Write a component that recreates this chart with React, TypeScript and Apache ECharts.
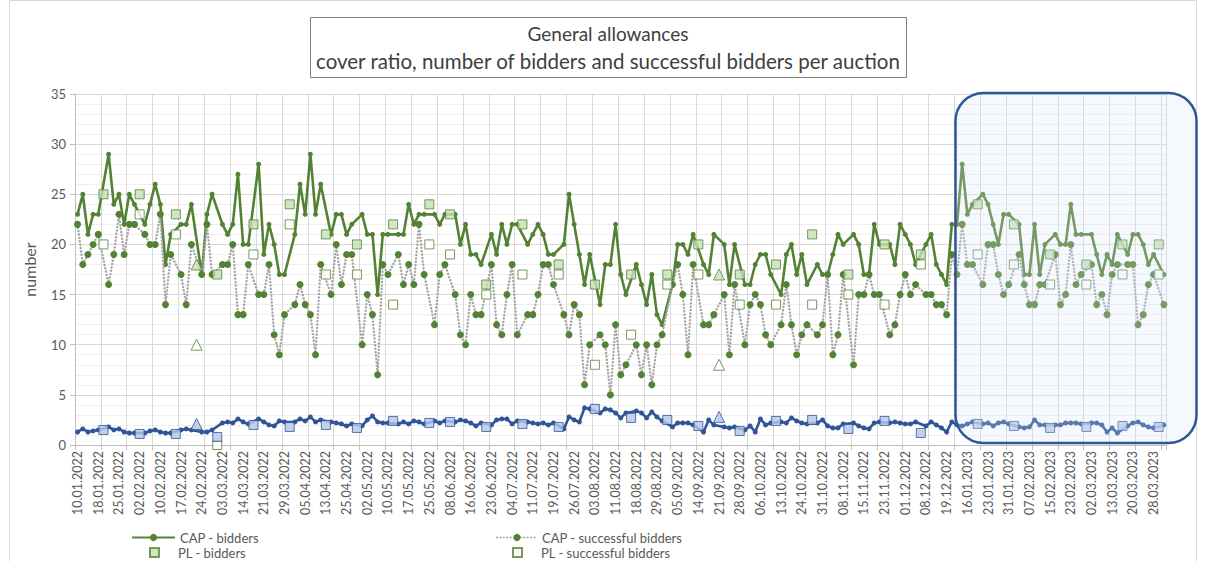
import React, { useEffect, useRef } from "react";
import * as echarts from "echarts";

const N = null;

const tickLabels = [
  "10.01.2022", "18.01.2022", "25.01.2022", "02.02.2022", "10.02.2022", "17.02.2022", "24.02.2022",
  "03.03.2022", "14.03.2022", "21.03.2022", "29.03.2022", "05.04.2022", "13.04.2022", "25.04.2022",
  "02.05.2022", "10.05.2022", "17.05.2022", "25.05.2022", "08.06.2022", "16.06.2022", "23.06.2022",
  "04.07.2022", "11.07.2022", "19.07.2022", "26.07.2022", "03.08.2022", "11.08.2022", "18.08.2022",
  "29.08.2022", "05.09.2022", "14.09.2022", "21.09.2022", "28.09.2022", "06.10.2022", "13.10.2022",
  "24.10.2022", "31.10.2022", "08.11.2022", "15.11.2022", "23.11.2022", "01.12.2022", "08.12.2022",
  "19.12.2022", "16.01.2023", "23.01.2023", "31.01.2023", "07.02.2023", "15.02.2023", "23.02.2023",
  "02.03.2023", "13.03.2023", "20.03.2023", "28.03.2023",
];

const capBidders = [
  23, 25, 21, 23, 23, N, 29, 24, 25, 22,
  25, 24, N, 22, 24, 26, 24, 18, 21, N,
  22, 22, 24, N, 17, 23, 25, N, 22, 21,
  22, 27, 20, 20, N, 28, 19, 22, 20, 17,
  17, N, 21, 26, 23, 29, 23, 26, N, 21,
  23, 23, 21, 22, N, 23, 21, 21, 15, 21,
  21, N, 21, 21, 24, 22, 23, 23, N, 23,
  22, 23, N, 23, 20, 22, 19, 19, 18, N,
  21, 19, 22, 20, 22, 22, N, 20, 21, 22,
  21, 19, 19, N, 20, 25, 22, 19, 16, 19,
  N, 14, 18, 18, 22, 17, 15, N, 18, 16,
  14, 17, 13, 12, N, 16, 20, 20, 19, 21,
  N, 18, 17, 21, N, 20, 16, 20, N, 16,
  16, 18, 19, 19, 17, N, 15, 19, 20, 17,
  19, 16, N, 18, 17, 17, 19, 21, 20, N,
  21, 20, 17, 17, 22, 20, N, 20, 18, 22,
  21, 20, 18, N, 20, 21, 18, 17, 16, 22,
  22, 28, 23, 24, N, 25, 24, 22, 20, 23,
  23, N, 22, 17, 17, 22, 17, 20, N, 21,
  20, 20, 24, 21, 21, N, 21, 19, 17, 19,
  18, 21, N, 19, 21, 21, 20, 18, 19, N,
  17,
];

const capSuccessful = [
  22, 18, 19, 20, 21, N, 16, 19, 23, 19,
  22, 22, N, 21, 20, 20, 23, 14, 19, N,
  17, 14, 20, N, 17, 22, 17, N, 18, 18,
  20, 13, 13, 18, N, 15, 15, 18, 11, 9,
  13, N, 14, 16, 14, 13, 9, 18, N, 15,
  20, 16, 19, 19, N, 10, 15, 13, 7, 18,
  17, N, 19, 16, 18, 16, 22, 17, N, 12,
  17, 18, N, 15, 11, 10, 15, 13, 13, N,
  18, 12, 11, 15, 18, 11, N, 13, 13, 15,
  18, 18, 16, N, 13, 11, 14, 13, 6, 10,
  N, 11, 10, 5, 12, 7, 8, N, 10, 7,
  10, 6, 10, 11, N, 16, 18, 15, 9, 18,
  N, 12, 12, 13, N, 15, 9, 16, N, 10,
  14, 15, 14, 11, 10, N, 12, 16, 12, 9,
  11, 12, N, 11, 12, 17, 9, 11, 17, N,
  8, 15, 15, 17, 15, 15, N, 11, 12, 15,
  17, 15, 16, N, 15, 15, 14, 14, 13, 19,
  17, 22, 18, 18, N, 16, 20, 20, 17, 15,
  16, N, 19, 16, 14, 14, 16, 16, N, 19,
  14, 15, 20, 16, 17, N, 18, 14, 15, 13,
  17, 18, N, 18, 18, 12, 13, 16, 17, N,
  14,
];

const capCoverRatio = [
  1.3, 1.6, 1.3, 1.4, 1.5, N, 1.8, 1.5, 1.6, 1.3,
  1.2, 1.2, N, 1.2, 1.4, 1.5, 1.3, 1.2, 1.2, N,
  1.5, 1.6, 1.5, N, 1.3, 1.3, 1.5, N, 2.2, 2.3,
  2.2, 2.6, 2.3, 2.1, N, 2.6, 2.3, 2.0, 1.9, 2.4,
  2.3, N, 2.3, 2.6, 2.4, 2.8, 2.3, 2.5, N, 2.3,
  2.2, 2.1, 1.9, 2.1, N, 1.9, 2.5, 2.9, 2.3, 2.2,
  2.2, N, 2.1, 2.3, 2.1, 2.4, 2.3, 2.1, N, 2.4,
  2.2, 2.4, N, 2.3, 2.5, 2.4, 2.2, 1.9, 2.2, N,
  2.0, 2.5, 2.6, 2.6, 2.1, 2.4, N, 2.3, 2.2, 2.1,
  2.2, 2.0, 2.2, N, 1.6, 2.8, 2.5, 2.3, 3.7, 3.6,
  N, 3.2, 3.6, 3.5, 3.2, 2.7, 3.2, N, 3.4, 3.2,
  2.7, 3.3, 2.8, 2.4, N, 1.8, 2.2, 2.2, 2.2, 2.0,
  N, 1.3, 2.5, 2.0, N, 1.8, 1.7, 1.8, N, 1.5,
  1.9, 1.3, 2.6, 2.0, 2.2, N, 2.3, 2.2, 2.7, 2.4,
  2.2, 2.1, N, 2.2, 2.5, 1.9, 1.7, 1.7, 2.1, N,
  2.2, 1.9, 1.7, 1.6, 2.2, 2.3, N, 2.2, 2.3, 2.2,
  2.1, 2.1, 2.3, N, 1.9, 2.3, 2.0, 1.7, 1.3, 2.3,
  2.0, 1.9, 2.1, 2.3, N, 2.1, 2.2, 1.9, 2.2, 2.3,
  2.1, N, 1.8, 1.7, 1.8, 2.5, 2.0, 2.0, N, 2.0,
  2.0, 2.2, 2.2, 2.2, 2.1, N, 2.2, 2.2, 2.0, 1.3,
  1.7, 1.2, N, 1.9, 2.2, 2.3, 2.0, 1.8, 1.7, N,
  2.0,
];

// PL auctions: category index of each auction, then its values
const plAuctionIndex = [5, 12, 19, 27, 34, 41, 48, 54, 61, 68, 72, 79, 86, 93, 100, 107, 114, 120, 128, 135, 142, 149, 156, 163, 174, 181, 188, 195, 202, 209];
const plBidders = [25, 25, 23, 17, 22, 24, 21, 20, 22, 24, 23, 16, 22, 18, 16, 17, 17, 20, 17, 18, 21, 17, 20, 19, 24, 22, 19, 18, 20, 20];
const plSuccessful = [20, 23, 21, 0, 19, 22, 17, 17, 14, 20, 19, 15, 17, 17, 8, 11, 16, 17, 14, 14, 14, 15, 14, 18, 19, 18, 16, 16, 17, 17];
const plCoverRatio = [1.5, 1.1, 1.1, 0.8, 2.0, 1.8, 2.0, 1.7, 2.4, 2.2, 2.3, 1.8, 2.1, 1.8, 3.6, 2.7, 2.5, 1.9, 1.4, 2.4, 2.5, 1.6, 2.4, 1.2, 2.1, 1.9, 1.7, 1.8, 1.9, 1.8];

// DE auctions
const deAuctionIndex = [23, 124];
const deBidders = [18, 17];
const deSuccessful = [10, 8];
const deCoverRatio = [2.1, 2.8];

const GREEN = "#548235";
const LIGHT_GREEN = "#c5e0b4";
const BLUE = "#2f5597";
const LIGHT_BLUE = "#b4c7e7";
const GRAY = "#a5a5a5";
const TEXT = "#595959";
const FONT = "Lato, 'Open Sans', sans-serif";

export default function App() {
  const ref = useRef<HTMLDivElement>(null);

  useEffect(() => {
    if (!ref.current) return;
    const chart = echarts.init(ref.current, undefined, { renderer: "svg" });

    const categories = capBidders.map((_, i) =>
      i % 4 === 0 && tickLabels[i / 4] ? tickLabels[i / 4] : ""
    );
    const sparse = (idx: number[], vals: number[]) => idx.map((c, k) => [c, vals[k]]);
    const dash = (arr: (number | null)[]) => arr.map((v) => (v === null ? "-" : v));

    const legendItem = (
      name: string,
      left: number,
      top: number,
      itemWidth: number,
      textPad: number
    ) => ({
      orient: "horizontal",
      left,
      top,
      itemWidth,
      itemHeight: 9,
      padding: 0,
      textStyle: { fontSize: 13, color: TEXT, fontFamily: FONT, padding: [0, 0, 0, textPad] },
      data: [name],
    });

    const option: any = {
      animation: false,
      backgroundColor: "#ffffff",
      textStyle: { fontFamily: FONT },
      grid: { left: 75, right: 39.5, top: 94, bottom: 116, containLabel: false },
      xAxis: {
        type: "category",
        data: categories,
        boundaryGap: true,
        axisLine: { show: true, lineStyle: { color: "#bfbfbf", width: 1 } },
        axisTick: { show: true, interval: 4, length: 5, lineStyle: { color: "#bfbfbf" } },
        axisLabel: {
          interval: 3,
          rotate: 90,
          fontSize: 12.5,
          color: TEXT,
          fontFamily: FONT,
          margin: 6,
        },
        splitLine: { show: true, interval: 4, lineStyle: { color: "#d9d9d9", width: 1 } },
      },
      yAxis: {
        type: "value",
        min: 0,
        max: 35,
        interval: 5,
        name: "number",
        nameLocation: "middle",
        nameRotate: 90,
        nameGap: 38,
        nameTextStyle: { fontSize: 16, color: TEXT, fontFamily: FONT },
        axisLine: { show: true, lineStyle: { color: "#bfbfbf" } },
        axisTick: { show: true, length: 5, lineStyle: { color: "#bfbfbf" } },
        axisLabel: { fontSize: 13, color: TEXT, fontFamily: FONT, margin: 9 },
        splitLine: { show: true, lineStyle: { color: "#d9d9d9", width: 1 } },
        minorTick: { show: false, splitNumber: 5 },
        minorSplitLine: { show: true, lineStyle: { color: "#efefef", width: 1 } },
      },
      legend: [
        legendItem("CAP - bidders", 131, 531, 43, 0),
        legendItem("PL - bidders", 149, 546, 9, 14),
        legendItem("CAP - successful bidders", 496, 531, 40, 0),
        legendItem("PL - successful bidders", 512, 546, 9, 14),
      ],
      series: [
        {
          name: "CAP - bidders",
          type: "line",
          data: dash(capBidders),
          connectNulls: true,
          showAllSymbol: true,
          symbol: "circle",
          symbolSize: 5,
          itemStyle: { color: GREEN },
          lineStyle: { color: GREEN, width: 2.6 },
          z: 3,
        },
        {
          name: "CAP - successful bidders",
          type: "line",
          data: dash(capSuccessful),
          connectNulls: true,
          showAllSymbol: true,
          symbol: "circle",
          symbolSize: 7,
          itemStyle: { color: GREEN },
          lineStyle: { color: GRAY, width: 2.4, type: [0.1, 3.3], cap: "round" },
          z: 4,
        },
        {
          name: "PL - bidders",
          type: "scatter",
          data: sparse(plAuctionIndex, plBidders),
          symbol: "rect",
          symbolSize: 9,
          itemStyle: { color: LIGHT_GREEN, borderColor: GREEN, borderWidth: 1 },
          z: 5,
        },
        {
          name: "PL - successful bidders",
          type: "scatter",
          data: sparse(plAuctionIndex, plSuccessful),
          symbol: "rect",
          symbolSize: 9,
          itemStyle: { color: "#ffffff", borderColor: GREEN, borderWidth: 1 },
          z: 5,
        },
        {
          name: "DE - bidders",
          type: "scatter",
          data: sparse(deAuctionIndex, deBidders),
          symbol: "triangle",
          symbolSize: 11,
          itemStyle: { color: LIGHT_GREEN, borderColor: GREEN, borderWidth: 1 },
          z: 5,
        },
        {
          name: "DE - successful bidders",
          type: "scatter",
          data: sparse(deAuctionIndex, deSuccessful),
          symbol: "triangle",
          symbolSize: 11,
          itemStyle: { color: "#ffffff", borderColor: GREEN, borderWidth: 1 },
          z: 5,
        },
        {
          name: "CAP - cover ratio",
          type: "line",
          data: dash(capCoverRatio),
          connectNulls: true,
          showAllSymbol: true,
          symbol: "circle",
          symbolSize: 5,
          itemStyle: { color: BLUE },
          lineStyle: { color: BLUE, width: 2.6 },
          z: 3,
        },
        {
          name: "PL - cover ratio",
          type: "scatter",
          data: sparse(plAuctionIndex, plCoverRatio),
          symbol: "rect",
          symbolSize: 9,
          itemStyle: { color: LIGHT_BLUE, borderColor: BLUE, borderWidth: 1 },
          z: 5,
        },
        {
          name: "DE - cover ratio",
          type: "scatter",
          data: sparse(deAuctionIndex, deCoverRatio),
          symbol: "triangle",
          symbolSize: 11,
          itemStyle: { color: LIGHT_BLUE, borderColor: BLUE, borderWidth: 1 },
          z: 5,
        },
      ],
      graphic: [
        {
          type: "rect",
          shape: { x: 9.5, y: 0.5, width: 1187, height: 600 },
          style: { fill: "none", stroke: "#d9d9d9", lineWidth: 1 },
          silent: true,
          z: 0,
        },
        {
          type: "rect",
          shape: { x: 310.5, y: 17.5, width: 596, height: 60 },
          style: { fill: "#ffffff", stroke: "#7f7f7f", lineWidth: 1 },
          silent: true,
          z: 10,
        },
        {
          type: "text",
          x: 608,
          y: 33,
          style: {
            text: "General allowances",
            fill: "#404040",
            font: `19px ${FONT}`,
            textAlign: "center",
            textVerticalAlign: "middle",
          },
          z: 11,
        },
        {
          type: "text",
          x: 608,
          y: 61,
          style: {
            text: "cover ratio, number of bidders and successful bidders per auction",
            fill: "#404040",
            font: `20.5px ${FONT}`,
            textAlign: "center",
            textVerticalAlign: "middle",
          },
          z: 11,
        },
        {
          type: "rect",
          shape: { x: 955.5, y: 93, width: 241, height: 350, r: 28 },
          style: { fill: "rgba(214,227,245,0.25)", stroke: BLUE, lineWidth: 2.5 },
          silent: true,
          z: 50,
        },
      ],
    };

    chart.setOption(option);
    return () => chart.dispose();
  }, []);

  return (
    <div
      ref={ref}
      style={{ position: "fixed", left: 0, top: 0, width: 1206, height: 561, background: "#ffffff" }}
    />
  );
}
